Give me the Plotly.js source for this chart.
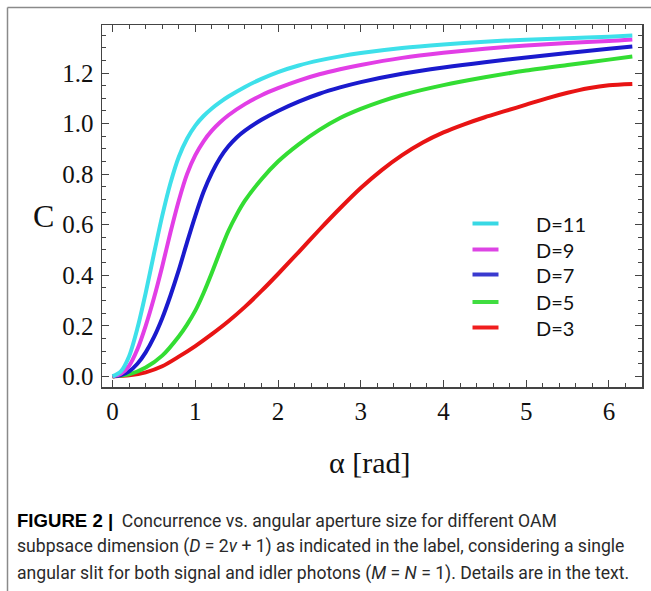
<!DOCTYPE html>
<html>
<head>
<meta charset="utf-8">
<script src="https://cdn.plot.ly/plotly-3.0.1.min.js"></script>
<style>html,body{margin:0;padding:0;background:#fff;}#chart{width:651px;height:591px;}</style>
</head>
<body>
<div id="chart"></div>
<script>
// ---- data ----
const alpha_D3  = [0, 0.2, 0.4, 0.6, 0.8, 1.0, 1.2, 1.4, 1.6, 1.8, 2.0, 2.25, 2.5, 2.75, 3.0, 3.25, 3.5, 3.75, 4.0, 4.25, 4.5, 4.75, 5.0, 5.25, 5.5, 5.75, 6.0, 6.283];
const C_D3      = [0, 0.004, 0.016, 0.04, 0.078, 0.12, 0.167, 0.218, 0.275, 0.338, 0.405, 0.492, 0.58, 0.665, 0.745, 0.815, 0.875, 0.925, 0.965, 0.997, 1.025, 1.05, 1.075, 1.1, 1.122, 1.14, 1.152, 1.157];
const alpha_D5  = [0, 0.2, 0.4, 0.6, 0.8, 0.9, 1.0, 1.1, 1.2, 1.3, 1.4, 1.5, 1.6, 1.8, 2.0, 2.25, 2.5, 2.75, 3.0, 3.25, 3.5, 4.0, 4.5, 5.0, 5.5, 6.0, 6.283];
const C_D5      = [0, 0.008, 0.035, 0.082, 0.158, 0.205, 0.26, 0.33, 0.41, 0.495, 0.575, 0.64, 0.695, 0.78, 0.85, 0.918, 0.975, 1.022, 1.058, 1.088, 1.113, 1.152, 1.183, 1.21, 1.232, 1.253, 1.265];
const alpha_D7  = [0, 0.1, 0.2, 0.3, 0.4, 0.5, 0.6, 0.7, 0.8, 0.9, 1.0, 1.1, 1.2, 1.3, 1.4, 1.5, 1.6, 1.8, 2.0, 2.25, 2.5, 2.75, 3.0, 3.5, 4.0, 4.5, 5.0, 5.5, 6.0, 6.283];
const C_D7      = [0, 0.005, 0.02, 0.05, 0.095, 0.155, 0.23, 0.32, 0.42, 0.53, 0.635, 0.73, 0.805, 0.865, 0.91, 0.945, 0.972, 1.015, 1.05, 1.087, 1.118, 1.143, 1.164, 1.197, 1.222, 1.243, 1.261, 1.279, 1.296, 1.305];
const alpha_D9  = [0, 0.1, 0.2, 0.3, 0.4, 0.5, 0.6, 0.7, 0.8, 0.9, 1.0, 1.1, 1.2, 1.3, 1.4, 1.6, 1.8, 2.0, 2.25, 2.5, 2.75, 3.0, 3.5, 4.0, 4.5, 5.0, 5.5, 6.0, 6.283];
const C_D9      = [0, 0.01, 0.042, 0.107, 0.2, 0.31, 0.435, 0.57, 0.695, 0.8, 0.875, 0.93, 0.972, 1.005, 1.033, 1.077, 1.112, 1.14, 1.17, 1.195, 1.215, 1.232, 1.26, 1.28, 1.296, 1.309, 1.319, 1.327, 1.333];
const alpha_D11 = [0, 0.1, 0.2, 0.3, 0.4, 0.5, 0.6, 0.7, 0.8, 0.9, 1.0, 1.1, 1.2, 1.3, 1.4, 1.6, 1.8, 2.0, 2.25, 2.5, 2.75, 3.0, 3.5, 4.0, 4.5, 5.0, 5.5, 6.0, 6.283];
const C_D11     = [0, 0.02, 0.08, 0.19, 0.33, 0.485, 0.635, 0.765, 0.868, 0.94, 0.992, 1.03, 1.06, 1.085, 1.107, 1.145, 1.177, 1.204, 1.23, 1.25, 1.266, 1.279, 1.299, 1.313, 1.324, 1.332, 1.338, 1.344, 1.348];
const seriesNames = ["D=3", "D=5", "D=7", "D=9", "D=11"];
const seriesX = [alpha_D3, alpha_D5, alpha_D7, alpha_D9, alpha_D11];
const seriesY = [C_D3, C_D5, C_D7, C_D9, C_D11];
const seriesColors = ["#e81414", "#33dd33", "#1a1acd", "#e23ee6", "#3ee0ea"];
const legendColors = ["#f01e1e", "#40dd40", "#3a3acf", "#dd44e4", "#38d8e4"];
const xTickVals = [0, 1, 2, 3, 4, 5, 6];
const yTickVals = [0, 0.2, 0.4, 0.6, 0.8, 1.0, 1.2];
const captionLines = [
  '<span style="font-family:\'Liberation Sans\',Arial,sans-serif;font-weight:bold;font-size:18.6px;color:#000">FIGURE 2 |</span>  Concurrence vs. angular aperture size for different OAM',
  'subpsace dimension (<i>D</i> = 2<i>ν</i> + 1) as indicated in the label, considering a single',
  'angular slit for both signal and idler photons (<i>M</i> = <i>N</i> = 1). Details are in the text.'
];

// ---- plot geometry (pixels) ----
const W = 651, H = 591;
const PL = 102, PR = 642, PT = 25, PB = 387;
const px = x => (x - PL) / (PR - PL);
const py = y => (PB - y) / (PB - PT);

const traces = seriesY.map((vals, i) => ({
  x: seriesX[i], y: vals, type: 'scatter', mode: 'lines', name: seriesNames[i],
  line: {color: seriesColors[i], width: 4, shape: 'spline', smoothing: 0.8},
  showlegend: false, hoverinfo: 'skip'
}));

const shapes = [
  {type: 'line', xref: 'paper', yref: 'paper', x0: px(7.5), x1: px(660), y0: py(7.5), y1: py(7.5), line: {color: '#8a8a8a', width: 1.5}},
  {type: 'line', xref: 'paper', yref: 'paper', x0: px(7.5), x1: px(7.5), y0: py(7.5), y1: py(600), line: {color: '#8a8a8a', width: 1.5}}
];
const annotations = [];
const legendY = [223.5, 249.5, 274.5, 302, 327.5];
for (let k = 0; k < seriesNames.length; k++) {
  const i = seriesNames.length - 1 - k;
  shapes.push({type: 'line', xref: 'paper', yref: 'paper', x0: px(472.5), x1: px(498.5), y0: py(legendY[k]), y1: py(legendY[k]),
    line: {color: legendColors[i], width: 4}});
  annotations.push({xref: 'paper', yref: 'paper', x: px(534), y: py(legendY[k]), xanchor: 'left', yanchor: 'middle',
    text: seriesNames[i], showarrow: false, font: {family: 'Lato, sans-serif', size: 20, color: '#111'}});
}
annotations.push({xref: 'paper', yref: 'paper', x: px(43), y: py(216), xanchor: 'center', yanchor: 'middle', text: 'C',
  showarrow: false, font: {family: '"Liberation Serif", serif', size: 32, color: '#111'}});
annotations.push({xref: 'paper', yref: 'paper', x: px(370), y: py(462), xanchor: 'center', yanchor: 'middle', text: 'α [rad]',
  showarrow: false, font: {family: '"Liberation Serif", serif', size: 30, color: '#111'}});
const capY = [520, 546.5, 573];
captionLines.forEach((t, i) => annotations.push({xref: 'paper', yref: 'paper', x: px(15), y: py(capY[i]), xanchor: 'left', yanchor: 'middle',
  text: t, showarrow: false, font: {family: 'Roboto, sans-serif', size: 17.6, color: '#2a2a2a'}}));

const axisCommon = {
  showline: true, mirror: 'allticks', linecolor: '#444', linewidth: 1.5,
  ticks: 'inside', ticklen: 7, tickwidth: 1, tickcolor: '#444',
  showgrid: false, zeroline: false,
  tickfont: {family: '"Liberation Serif", serif', size: 25, color: '#111'}
};
const layout = {
  width: W, height: H, autosize: false,
  margin: {l: PL, r: W - PR, t: PT, b: H - PB, pad: 0},
  paper_bgcolor: '#fff', plot_bgcolor: '#fff',
  showlegend: false,
  xaxis: Object.assign({}, axisCommon, {range: [-0.128, 6.40], tickvals: xTickVals, ticktext: xTickVals.map(String),
    minor: {dtick: 0.2, tick0: 0, ticks: 'inside', ticklen: 4, tickcolor: '#444', tickwidth: 1}, ticklabelstandoff: 1}),
  yaxis: Object.assign({}, axisCommon, {range: [-0.042, 1.39], tickvals: yTickVals, ticktext: yTickVals.map(v => v.toFixed(1)),
    minor: {dtick: 0.05, tick0: 0, ticks: 'inside', ticklen: 4, tickcolor: '#444', tickwidth: 1}, ticklabelstandoff: 2}),
  shapes: shapes, annotations: annotations
};
Plotly.newPlot('chart', traces, layout, {displayModeBar: false, staticPlot: true});
</script>
</body>
</html>
